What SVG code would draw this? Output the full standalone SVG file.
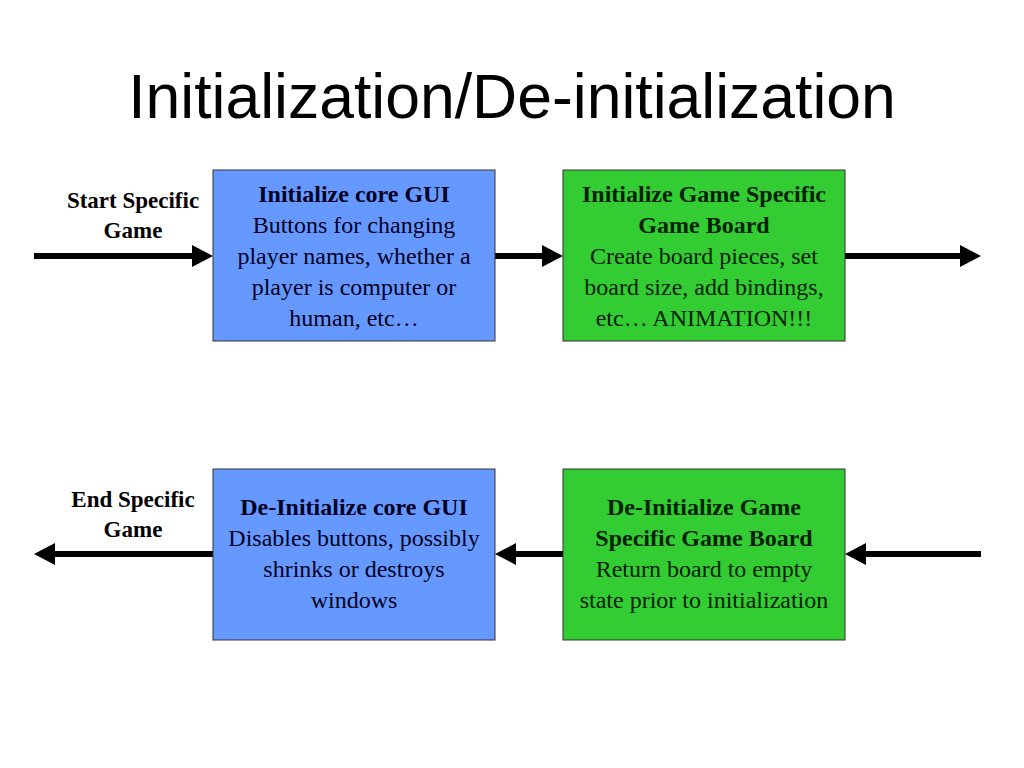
<svg xmlns="http://www.w3.org/2000/svg" width="1024" height="768" viewBox="0 0 1024 768">
<defs>
<style>
.title{font-family:"Liberation Sans",Arial,sans-serif;font-size:62.5px;fill:#000}
.box{stroke:#333;stroke-width:1}
.blue{fill:#6699FF}
.green{fill:#33CC33}
.t{font-family:"Liberation Serif","Times New Roman",serif;font-size:24px;text-anchor:middle}
.b{font-weight:bold}
.tb{fill:#000022}
.tg{fill:#002200}
.lbl{font-family:"Liberation Serif","Times New Roman",serif;font-size:23px;font-weight:bold;text-anchor:middle;fill:#000}
.arrow{stroke:#000;stroke-width:6;fill:none}
</style>
<marker id="ah" markerUnits="userSpaceOnUse" markerWidth="22" markerHeight="22" refX="3" refY="11" orient="auto">
<path d="M0,0 L21,11 L0,22 Z" fill="#000"/>
</marker>
</defs>
<rect width="1024" height="768" fill="#fff"/>
<text class="title" x="512" y="118" text-anchor="middle">Initialization/De-initialization</text>

<g id="connectors">
<line class="arrow" x1="34" y1="256" x2="195" y2="256" marker-end="url(#ah)"/>
<line class="arrow" x1="495" y1="256" x2="545" y2="256" marker-end="url(#ah)"/>
<line class="arrow" x1="845" y1="256" x2="963" y2="256" marker-end="url(#ah)"/>
<line class="arrow" x1="981" y1="554" x2="863" y2="554" marker-end="url(#ah)"/>
<line class="arrow" x1="563" y1="554" x2="513" y2="554" marker-end="url(#ah)"/>
<line class="arrow" x1="213" y1="554" x2="52" y2="554" marker-end="url(#ah)"/>
</g>

<g id="label-start">
<text class="lbl" x="133" y="208">Start Specific</text>
<text class="lbl" x="133" y="238">Game</text>
</g>
<g id="label-end">
<text class="lbl" x="133" y="507">End Specific</text>
<text class="lbl" x="133" y="537">Game</text>
</g>

<g id="init-core-gui">
<rect class="box blue" x="213" y="170" width="282" height="171"/>
<text class="t tb b" x="354" y="202">Initialize core GUI</text>
<text class="t tb" x="354" y="233">Buttons for changing</text>
<text class="t tb" x="354" y="264">player names, whether a</text>
<text class="t tb" x="354" y="295">player is computer or</text>
<text class="t tb" x="354" y="326">human, etc…</text>
</g>

<g id="init-game-board">
<rect class="box green" x="563" y="170" width="282" height="171"/>
<text class="t tg b" x="704" y="202">Initialize Game Specific</text>
<text class="t tg b" x="704" y="233">Game Board</text>
<text class="t tg" x="704" y="264">Create board pieces, set</text>
<text class="t tg" x="704" y="295">board size, add bindings,</text>
<text class="t tg" x="704" y="326">etc… ANIMATION!!!</text>
</g>

<g id="deinit-core-gui">
<rect class="box blue" x="213" y="469" width="282" height="171"/>
<text class="t tb b" x="354" y="515">De-Initialize core GUI</text>
<text class="t tb" x="354" y="546">Disables buttons, possibly</text>
<text class="t tb" x="354" y="577">shrinks or destroys</text>
<text class="t tb" x="354" y="608">windows</text>
</g>

<g id="deinit-game-board">
<rect class="box green" x="563" y="469" width="282" height="171"/>
<text class="t tg b" x="704" y="515">De-Initialize Game</text>
<text class="t tg b" x="704" y="546">Specific Game Board</text>
<text class="t tg" x="704" y="577">Return board to empty</text>
<text class="t tg" x="704" y="608">state prior to initialization</text>
</g>
</svg>
